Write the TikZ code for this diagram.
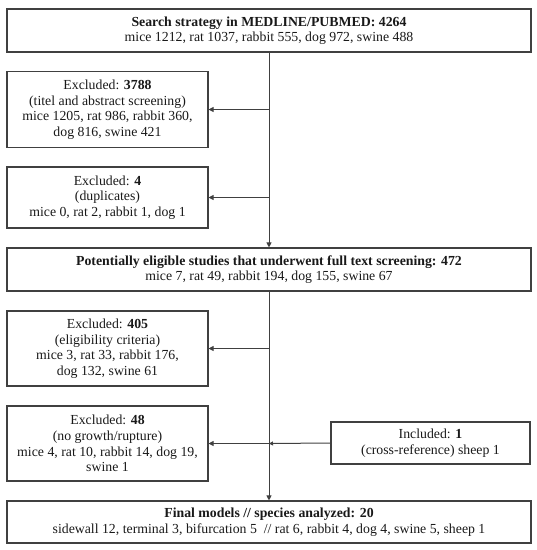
\documentclass[tikz,border=0pt]{standalone}
\usepackage{fontspec}
\setmainfont{Liberation Serif}
\usetikzlibrary{arrows.meta}
\begin{document}
\begin{tikzpicture}[x=1pt,y=-1pt,
  box/.style={draw=black!75,line width=1.1pt,rectangle,inner sep=0pt,align=center,
    font=\fontsize{13.8}{15.6}\selectfont,text=black!90},
  conn/.style={draw=black!75,line width=1pt},
  arr/.style={conn,-{Triangle[length=5pt,width=5pt]}}]
\useasboundingbox (0,0) rectangle (537,550);
\node[box,minimum width=524pt,minimum height=43pt] (top) at (269,30.5)
  {\textbf{Search strategy in MEDLINE/PUBMED: 4264}\\mice 1212, rat 1037, rabbit 555, dog 972, swine 488};
\node[box,minimum width=201pt,minimum height=76pt] (ex1) at (107.5,109.5)
  {Excluded: \textbf{3788}\\(titel and abstract screening)\\mice 1205, rat 986, rabbit 360,\\dog 816, swine 421};
\node[box,minimum width=201pt,minimum height=61pt] (ex2) at (107.5,197.5)
  {Excluded: \textbf{4}\\(duplicates)\\mice 0, rat 2, rabbit 1, dog 1};
\node[box,minimum width=524pt,minimum height=43pt] (pot) at (269,269.5)
  {\textbf{Potentially eligible studies that underwent full text screening: 472}\\mice 7, rat 49, rabbit 194, dog 155, swine 67};
\node[box,minimum width=201pt,minimum height=75pt] (ex3) at (107.5,348.5)
  {Excluded: \textbf{405}\\(eligibility criteria)\\mice 3, rat 33, rabbit 176,\\dog 132, swine 61};
\node[box,minimum width=201pt,minimum height=75pt] (ex4) at (107.5,443.5)
  {Excluded: \textbf{48}\\(no growth/rupture)\\mice 4, rat 10, rabbit 14, dog 19,\\swine 1};
\node[box,minimum width=199pt,minimum height=42pt] (inc) at (430.5,443)
  {Included: \textbf{1}\\(cross-reference) sheep 1};
\node[box,minimum width=524pt,minimum height=42pt] (fin) at (269,522)
  {\textbf{Final models // species analyzed: 20}\\sidewall 12, terminal 3, bifurcation 5~~// rat 6, rabbit 4, dog 4, swine 5, sheep 1};
\coordinate (j1) at (top.south |- ex1.east);
\coordinate (j2) at (top.south |- ex2.east);
\coordinate (j3) at (pot.south |- ex3.east);
\coordinate (j4) at (pot.south |- ex4.east);
\draw[arr] (top.south) -- (pot.north);
\draw[arr] (j1) -- (ex1.east);
\draw[arr] (j2) -- (ex2.east);
\draw[arr] (pot.south) -- (fin.north);
\draw[arr] (j3) -- (ex3.east);
\draw[arr] (j4) -- (ex4.east);
\draw[conn,-{Triangle[length=4pt,width=4pt]}] (inc.west) -- (j4);
\end{tikzpicture}
\end{document}
